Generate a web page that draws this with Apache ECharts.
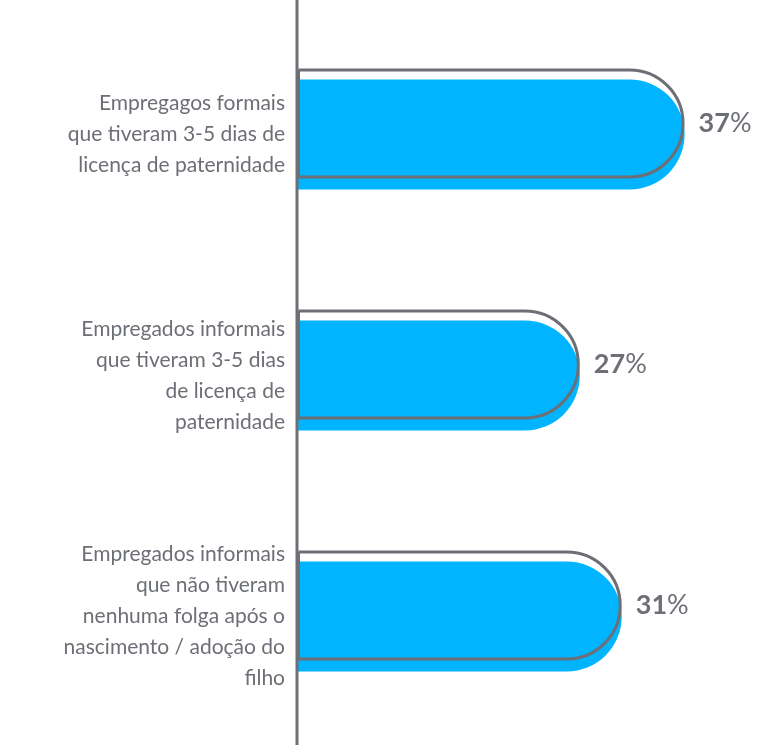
<!DOCTYPE html>
<html>
<head>
<meta charset="utf-8">
<script src="https://cdn.jsdelivr.net/npm/echarts@6/dist/echarts.min.js"></script>
<style>body{margin:0;background:#fff}</style>
</head>
<body>
<div id="main" style="width:761px;height:745px;"></div>
<script>
var categories = [
  'Empregagos formais\nque tiveram 3-5 dias de\nlicença de paternidade',
  'Empregados informais\nque tiveram 3-5 dias\nde licença de\npaternidade',
  'Empregados informais\nque não tiveram\nnenhuma folga após o\nnascimento / adoção do\nfilho'
];
var values = [37, 27, 31];

var grey = '#6c6f75';
var chart = echarts.init(document.getElementById('main'));
var yBase = { type: 'category', inverse: true, data: categories, axisTick: {show: false}, axisLine: {show: false} };
chart.setOption({
  animation: false,
  textStyle: { fontFamily: 'Lato' },
  grid: [
    { left: 297, right: 45, top: 14, bottom: 8 },
    { left: 297, right: 45, top: 3, bottom: 19 }
  ],
  xAxis: [
    { gridIndex: 0, type: 'value', min: 0, max: 40, show: false },
    { gridIndex: 1, type: 'value', min: 0, max: 40, show: false }
  ],
  yAxis: [
    Object.assign({ gridIndex: 0, axisLabel: { color: grey, fontSize: 21, lineHeight: 31, align: 'right', margin: 12 } }, yBase),
    Object.assign({ gridIndex: 1, axisLabel: { show: false } }, yBase)
  ],
  graphic: [{ type: 'line', shape: { x1: 297, y1: 0, x2: 297, y2: 745 }, style: { stroke: grey, lineWidth: 3 }, z: 100 }],
  series: [
    { type: 'bar', xAxisIndex: 0, yAxisIndex: 0, data: values, barWidth: 110,
      itemStyle: { color: '#00b4ff', borderRadius: [0, 55, 55, 0] } },
    { type: 'bar', xAxisIndex: 1, yAxisIndex: 1, data: values, barWidth: 110, z: 5,
      itemStyle: { color: 'rgba(0,0,0,0)', borderColor: grey, borderWidth: 3, borderRadius: [0, 55, 55, 0] },
      label: { show: true, position: 'right', distance: 14,
        formatter: function (p) { return '{n|' + p.value + '}{p|%}'; },
        rich: { n: { color: grey, fontSize: 27, fontWeight: 'bold' }, p: { color: grey, fontSize: 27 } } } }
  ]
});
</script>
</body>
</html>
